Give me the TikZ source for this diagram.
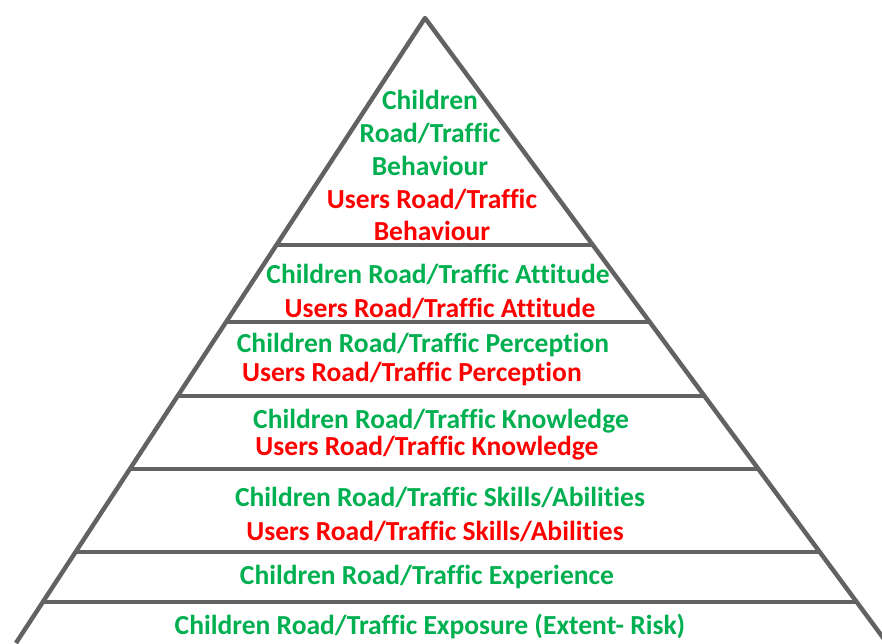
\documentclass[tikz,border=0pt]{standalone}
\usepackage{fontspec}
\setmainfont{Carlito}[Ligatures=NoCommon]
\usetikzlibrary{calc,positioning}

\definecolor{kidgreen}{HTML}{00B050}
\definecolor{userred}{HTML}{FF0000}
\definecolor{edgegray}{HTML}{626262}

\tikzset{
  rung/.style={draw=edgegray,line width=3.8pt},
  kid/.style={text=kidgreen,font=\fontsize{23.5}{28}\selectfont\bfseries,align=center,inner sep=0pt},
  usr/.style={text=userred,font=\fontsize{23.5}{28}\selectfont\bfseries,align=center,inner sep=0pt}
}

\begin{document}
\begin{tikzpicture}[x=0.3mm,y=-0.3mm]
  \useasboundingbox (0,0) rectangle (882,643);
  \coordinate (apex) at (425,18);
  \coordinate (bl) at (16,643);
  \coordinate (br) at (887,643);
  \draw[rung,line join=round] (bl) -- (apex) -- (br);
  \foreach \y in {245,322,396,469,552,602}
    \draw[rung] ($(apex)!{(\y-18)/625}!(bl)$) -- ($(apex)!{(\y-18)/625}!(br)$);

  \node[kid] (cb) at (430,133) {Children\\Road/Traffic\\Behaviour};
  \node[usr] (ub) at (432,215) {Users Road/Traffic\\Behaviour};
  \node[kid] (ca) at (438,274) {Children Road/Traffic Attitude};
  \node[usr] (ua) at (440,308) {Users Road/Traffic Attitude};
  \node[kid] (cp) at (423,345) {Children Road/Traffic Perception};
  \node[usr] (up) at (412,374) {Users Road/Traffic Perception};
  \node[kid] (ck) at (441,421) {Children Road/Traffic Knowledge};
  \node[usr] (uk) at (427,448) {Users Road/Traffic Knowledge};
  \node[kid] (cs) at (440,497) {Children Road/Traffic Skills/Abilities};
  \node[usr] (us) at (435,531) {Users Road/Traffic Skills/Abilities};
  \node[kid] (ce) at (427,577) {Children Road/Traffic Experience};
  \node[kid] (cx) at (430,626) {Children Road/Traffic Exposure (Extent- Risk)};
\end{tikzpicture}
\end{document}
